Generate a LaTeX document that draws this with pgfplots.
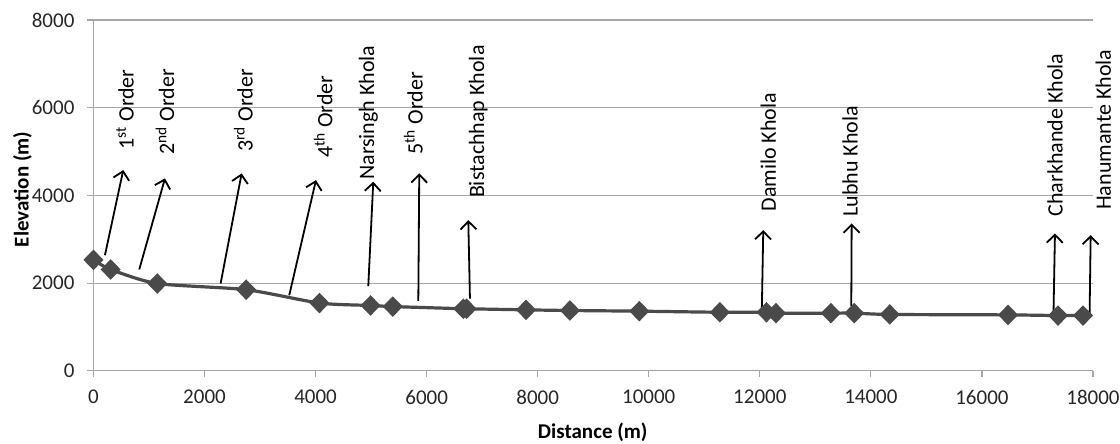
\documentclass[border=0pt]{standalone}
\usepackage{fontspec}
\setmainfont{Carlito}
\usepackage{pgfplots}
\pgfplotsset{compat=1.18}
\usetikzlibrary{arrows.meta}

\definecolor{lineg}{HTML}{4A4A4A}
\definecolor{gridg}{HTML}{A6A6A6}

\pgfplotstableread{
dist elev
0 2530
310 2310
1150 1990
2750 1850
4070 1545
4990 1490
5390 1465
6660 1415
6720 1415
7790 1390
8580 1375
9830 1360
11280 1335
12120 1335
12290 1315
13280 1315
13700 1315
14340 1285
16470 1275
17370 1260
17820 1260
}\profile

\begin{document}
\begin{tikzpicture}
\begin{axis}[
    name=ax,
    scale only axis, width=500pt, height=175.5pt,
    xmin=0, xmax=18000, ymin=0, ymax=8000,
    xtick={0,2000,...,18000}, ytick={0,2000,...,8000},
    axis lines=left, axis line style={gridg, line width=0.6pt, -},
    ymajorgrids, grid style={gridg, line width=0.6pt},
    tick align=outside, major tick length=3pt,
    tick style={gridg, line width=0.6pt},
    scaled ticks=false,
    /pgf/number format/set thousands separator={},
    /pgf/number format/assume math mode=true,
    tick label style={font=\fontsize{10.5}{12}\selectfont, text=black!85},
    xticklabel style={yshift=-3pt},
    yticklabel style={xshift=-3pt},
    xlabel={\textbf{Distance (m)}}, ylabel={\textbf{Elevation (m)}},
    label style={font=\fontsize{10.5}{12}\selectfont},
    xlabel style={at={(axis description cs:0.4995,-0.174)}, anchor=center},
    ylabel style={at={(axis description cs:-0.071,0.517)}, anchor=center},
    clip=false,
]
\addplot[lineg, line width=1.6pt, smooth, tension=0.4, mark=diamond*,
    mark size=4pt, mark options={xscale=1.3, fill=lineg, draw=lineg}]
    table[x=dist, y=elev] {\profile};

% annotation arrows
\begin{scope}[black, line width=0.9pt, -{Straight Barb[length=4pt,width=8pt]}]
\draw (207,2637) -- (537,4578);
\draw (825,2311) -- (1288,4388);
\draw (2290,1991) -- (2669,4502);
\draw (3526,1724) -- (4007,4349);
\draw (4949,1929) -- (5039,4311);
\draw (5850,1594) -- (5867,4502);
\draw (6780,1648) -- (6750,3436);
\draw (12035,1313) -- (12062,3208);
\draw (13647,1473) -- (13654,3361);
\draw (17288,1274) -- (17315,3132);
\draw (17938,1235) -- (17958,3094);
\end{scope}

\begin{scope}[every node/.style={rotate=90, anchor=west, inner sep=0pt,
    font=\fontsize{11}{13}\selectfont}]
\node at (567,5034) {1\textsuperscript{st} Order};
\node at (1288,4920) {2\textsuperscript{nd} Order};
\node at (2698,4995) {3\textsuperscript{rd} Order};
\node at (4138,4845) {4\textsuperscript{th} Order};
\node at (4949,4349) {Narsingh Khola};
\node at (5759,4920) {5\textsuperscript{th} Order};
\node at (6930,3932) {Bistachhap Khola};
\node at (12152,3626) {Damilo Khola};
\node at (13623,3511) {Lubhu Khola};
\node at (17315,3511) {Charkhande Khola};
\node at (18185,3664) {Hanumante Khola};
\end{scope}
\end{axis}
\pgfresetboundingbox
\path ([xshift=-46.75pt,yshift=-36.5pt]ax.south west) rectangle ([xshift=13.5pt,yshift=10pt]ax.north east);
\end{tikzpicture}
\end{document}
